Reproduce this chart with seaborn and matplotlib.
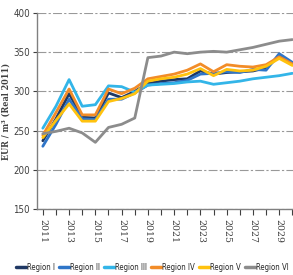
import matplotlib
matplotlib.use("Agg")
import matplotlib.pyplot as plt
import seaborn as sns
import pandas as pd
from matplotlib import font_manager

years = list(range(2011, 2031))
region_names = ["Region I", "Region II", "Region III", "Region IV", "Region V", "Region VI"]
region_i = [237, 265, 297, 267, 266, 298, 292, 300, 310, 313, 315, 316, 326, 322, 324, 325, 326, 330, 345, 335]
region_ii = [230, 258, 290, 265, 264, 290, 290, 298, 308, 310, 311, 314, 322, 323, 325, 324, 328, 327, 348, 337]
region_iii = [253, 281, 315, 281, 283, 307, 306, 299, 308, 309, 310, 312, 313, 309, 311, 313, 316, 318, 320, 323]
region_iv = [244, 273, 303, 270, 270, 303, 297, 304, 316, 319, 322, 327, 335, 325, 334, 332, 331, 334, 344, 335]
region_v = [241, 263, 284, 262, 262, 287, 291, 297, 313, 316, 318, 322, 329, 320, 328, 326, 327, 332, 342, 333]
region_vi = [246, 249, 253, 247, 235, 254, 258, 266, 343, 345, 350, 348, 350, 351, 350, 353, 356, 360, 364, 366]
colors = ["#1F3864", "#2F75C8", "#33B5E8", "#F28C28", "#FFC20E", "#8C8C8C"]

series = [region_i, region_ii, region_iii, region_iv, region_v, region_vi]
rows = []
for name, vals in zip(region_names, series):
    for y, v in zip(years, vals):
        rows.append({"year": y, "value": v, "region": name})
df = pd.DataFrame(rows)

sns.set_style("white")
plt.rcParams['font.family'] = ['DejaVu Sans']
plt.rcParams['font.stretch'] = 'condensed'

fig = plt.figure(figsize=(2.93, 2.75), dpi=100)
ax = fig.add_axes([0.126, 0.24, 0.874, 0.713])

sns.lineplot(data=df, x="year", y="value", hue="region", palette=colors,
             linewidth=2.0, ax=ax, legend=True)

ax.set_xlim(2010.55, 2030.05)
ax.set_ylim(150, 400)
ax.set_yticks([150, 200, 250, 300, 350, 400])
ax.set_xticks(list(range(2011, 2031, 2)))
ax.set_xticks(list(range(2011, 2031)), minor=True)
ax.set_xticklabels([str(y) for y in range(2011, 2031, 2)], rotation=270,
                   family=["DejaVu Serif"], fontsize=7.5)
ax.tick_params(axis="y", labelsize=7, colors="#404040", length=3, width=0.8, direction="out", left=True, pad=2)
ax.tick_params(axis="x", which="both", labelsize=7.5, colors="#404040", length=4, width=0.8, direction="out", bottom=True, pad=3)
for lab in ax.get_yticklabels():
    lab.set_color("#404040")
    lab.set_fontstretch("condensed")
ax.grid(axis="y", color="#999999", linestyle=(0, (8, 2, 2, 2)), linewidth=0.8)
ax.grid(axis="x", visible=False)
for s in ["top", "right"]:
    ax.spines[s].set_visible(False)
for s in ["left", "bottom"]:
    ax.spines[s].set_color("#808080")
    ax.spines[s].set_linewidth(1.0)
ax.set_xlabel("")
ax.set_ylabel("EUR / m\u00b3 (Real 2011)", family=["DejaVu Serif"],
              fontsize=6.5, fontweight="bold", color="#404040", labelpad=2)

handles, labels = ax.get_legend_handles_labels()
ax.legend_.remove()
leg = fig.legend(handles, labels, loc="center", bbox_to_anchor=(0.52, 0.028), ncol=6,
                 frameon=False, prop={"size": 5.6, "stretch": "condensed"},
                 handlelength=1.3, handletextpad=0.15,
                 columnspacing=0.5, borderaxespad=0)
for h in leg.get_lines():
    h.set_linewidth(2.5)

fig.savefig("out.png", dpi=100)
